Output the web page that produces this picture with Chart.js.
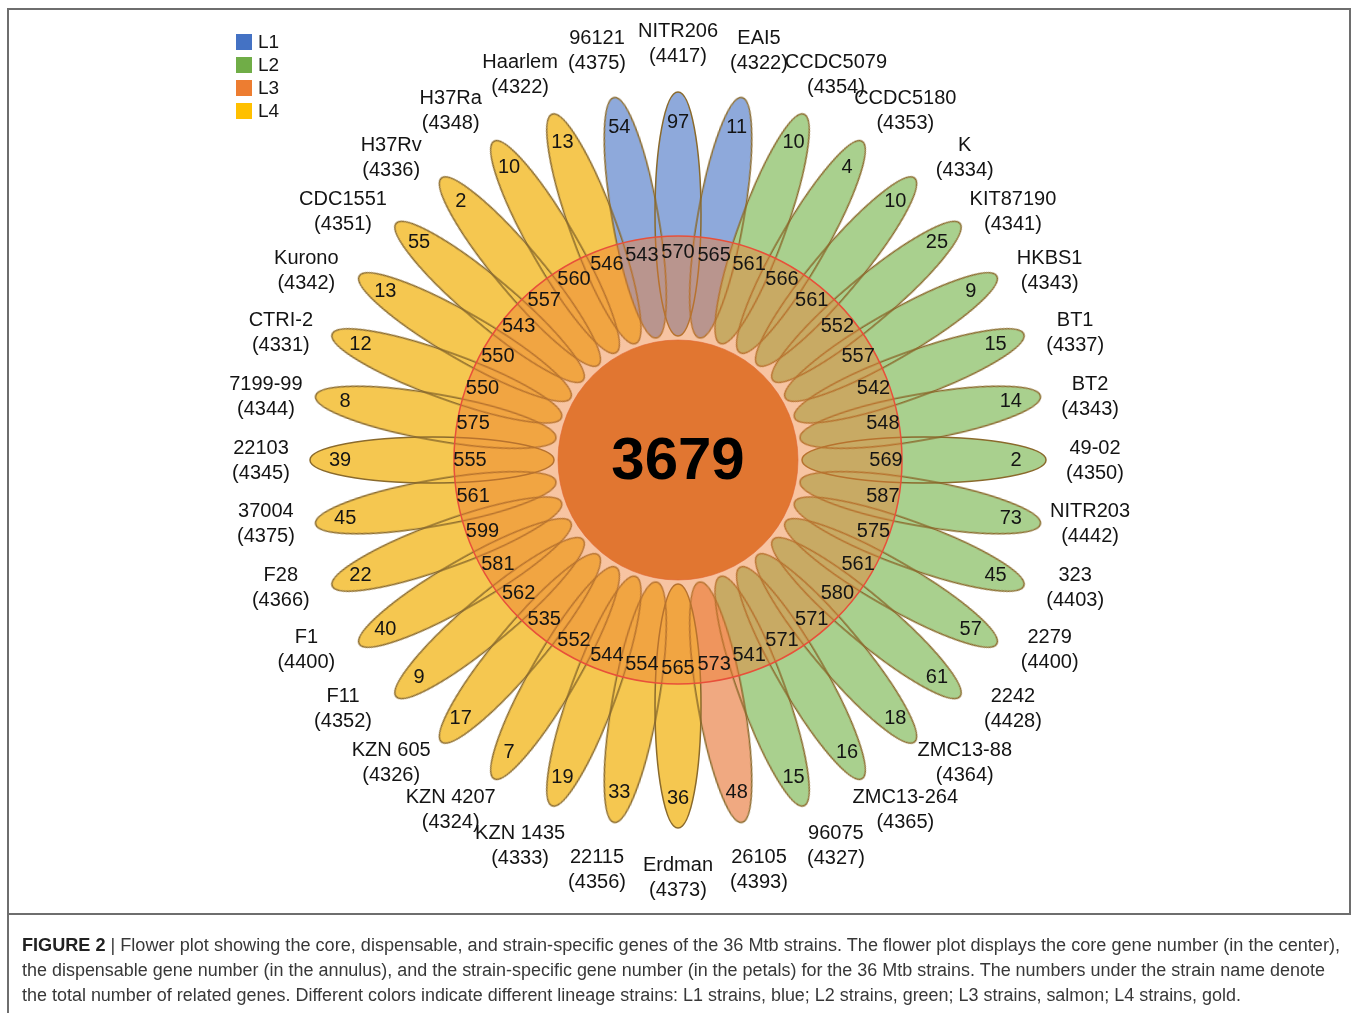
<!DOCTYPE html>
<html>
<head>
<meta charset="utf-8">
<title>Flower plot of 36 Mtb strains</title>
<script src="https://cdn.jsdelivr.net/npm/chart.js@4.4.1/dist/chart.umd.min.js"></script>
<style>
  html, body { margin: 0; padding: 0; background: #fff; }
  #wrap { position: relative; width: 1357px; height: 1013px; overflow: hidden; }
  #flower { position: absolute; left: 0; top: 0; }
  #frame { position: absolute; left: 7px; top: 8px; width: 1344px; height: 907px;
           border: 2px solid #6e6e6e; box-sizing: border-box; pointer-events: none; }
  #frameTail { position: absolute; left: 7px; top: 913px; width: 2px; height: 100px; background: #6e6e6e; }
  .ln { position: absolute; left: 22px; white-space: nowrap; color: #383838;
        font: 18px "Liberation Sans Narrow", "Liberation Sans", Arial, sans-serif;
        line-height: 20px; transform-origin: 0 50%; }
  .ln b { color: #222; }
</style>
</head>
<body>
<div id="wrap">
  <canvas id="flower" width="1357" height="1013"></canvas>
  <div id="frame"></div>
  <div id="frameTail"></div>
  <div class="ln" id="c1" style="top:935px"><b>FIGURE 2</b> | Flower plot showing the core, dispensable, and strain-specific genes of the 36 Mtb strains. The flower plot displays the core gene number (in the center),</div>
  <div class="ln" id="c2" style="top:960px">the dispensable gene number (in the annulus), and the strain-specific gene number (in the petals) for the 36 Mtb strains. The numbers under the strain name denote</div>
  <div class="ln" id="c3" style="top:985px">the total number of related genes. Different colors indicate different lineage strains: L1 strains, blue; L2 strains, green; L3 strains, salmon; L4 strains, gold.</div>
</div>
<script>
// caption lines fitted to the text block width
const capWidths = { c1: 1318, c2: 1303, c3: 1219 };
Object.keys(capWidths).forEach(id => {
  const el = document.getElementById(id);
  const w = el.getBoundingClientRect().width;
  if (w > 0) el.style.transform = "scaleX(" + (capWidths[id] / w) + ")";
});

// ---- data: strains listed clockwise from the top petal ----
const strains = ["NITR206","EAI5","CCDC5079","CCDC5180","K","KIT87190","HKBS1","BT1","BT2","49-02",
  "NITR203","323","2279","2242","ZMC13-88","ZMC13-264","96075","26105","Erdman","22115",
  "KZN 1435","KZN 4207","KZN 605","F11","F1","F28","37004","22103","7199-99","CTRI-2",
  "Kurono","CDC1551","H37Rv","H37Ra","Haarlem","96121"];
const totalGenes = [4417,4322,4354,4353,4334,4341,4343,4337,4343,4350,
  4442,4403,4400,4428,4364,4365,4327,4393,4373,4356,
  4333,4324,4326,4352,4400,4366,4375,4345,4344,4331,
  4342,4351,4336,4348,4322,4375];
const specificGenes = [97,11,10,4,10,25,9,15,14,2,
  73,45,57,61,18,16,15,48,36,33,
  19,7,17,9,40,22,45,39,8,12,
  13,55,2,10,13,54];
const dispensableGenes = [570,565,561,566,561,552,557,542,548,569,
  587,575,561,580,571,571,541,573,565,554,
  544,552,535,562,581,599,561,555,575,550,
  550,543,557,560,546,543];
const lineage = ["L1","L1","L2","L2","L2","L2","L2","L2","L2","L2",
  "L2","L2","L2","L2","L2","L2","L2","L3","L4","L4",
  "L4","L4","L4","L4","L4","L4","L4","L4","L4","L4",
  "L4","L4","L4","L4","L4","L1"];
const lineages = ["L1","L2","L3","L4"];
const coreGenes = 3679;

// ---- styling ----
const legendColor = { L1: "#4472C4", L2: "#70AD47", L3: "#ED7D31", L4: "#FFC000" };
const petalColor  = { L1: "#8EA9DB", L2: "#A9D08E", L3: "#F0A981", L4: "#F5C750" };
const petalEdge = "#8A6A2C";
const annulusFill = "rgba(237,125,49,0.45)";
const annulusEdge = "#E8503A";
const coreFill = "#E17631";
const FONT = '"Liberation Sans", Arial, sans-serif';

// ---- geometry (data units; the scales map 1 unit to 1 px) ----
const PETAL_INNER = 124, PETAL_OUTER = 368, PETAL_HALF_W = 23;
const PETAL_MID = (PETAL_INNER + PETAL_OUTER) / 2;
const PETAL_HALF_L = (PETAL_OUTER - PETAL_INNER) / 2;
const ANNULUS_R = 224, CORE_R = 120;
const SPECIFIC_R = 338, DISPENSABLE_R = 208, LABEL_R = 417;
const CX = 678, CY = 460, W = 1357, H = 1013;

const step = 360 / strains.length;
const angleOf = i => i * step;               // clockwise from the top
const rad = d => d * Math.PI / 180;
const polar = (r, deg) => ({ x: r * Math.sin(rad(deg)), y: r * Math.cos(rad(deg)) });

const petalPoints = strains.map((_, i) => polar(PETAL_MID, angleOf(i)));

function unitPx(chart) {
  const xs = chart.scales && chart.scales.x;
  if (xs) {
    const k = Math.abs(xs.getPixelForValue(1) - xs.getPixelForValue(0));
    if (isFinite(k) && k > 0) return k;
  }
  return 0;
}

const petalCache = {};
function petalImage(chart, lin, part) {
  const k = unitPx(chart);
  if (!k) return "circle";
  const key = lin + part + k.toFixed(4);
  if (petalCache[key]) return petalCache[key];
  const a = PETAL_HALF_L * k, b = PETAL_HALF_W * k;
  const c = document.createElement("canvas");
  c.width = Math.ceil(2 * b + 6); c.height = Math.ceil(2 * a + 6);
  const g = c.getContext("2d");
  g.beginPath();
  g.ellipse(c.width / 2, c.height / 2, b, a, 0, 0, Math.PI * 2);
  if (part === "fill") { g.fillStyle = petalColor[lin]; g.fill(); }
  else { g.strokeStyle = petalEdge; g.lineWidth = 1.5; g.stroke(); }
  petalCache[key] = c;
  return c;
}
const pxRadius = (chart, r) => (unitPx(chart) || 1) * r;

// ---- text layer: counts, strain names, centre value and lineage key ----
const flowerText = {
  id: "flowerText",
  afterDatasetsDraw(chart) {
    const { ctx, scales: { x, y } } = chart;
    const at = (r, deg) => { const p = polar(r, deg); return [x.getPixelForValue(p.x), y.getPixelForValue(p.y)]; };
    ctx.save();
    ctx.textAlign = "center";
    ctx.textBaseline = "middle";
    ctx.fillStyle = "#141414";
    ctx.font = "20px " + FONT;
    strains.forEach((name, i) => {
      const th = angleOf(i);
      let [px, py] = at(SPECIFIC_R, th);
      ctx.fillText(String(specificGenes[i]), px, py);
      [px, py] = at(DISPENSABLE_R, th);
      ctx.fillText(String(dispensableGenes[i]), px, py);
      const la = th + 3.5 * Math.sin(rad(2 * th));
      [px, py] = at(LABEL_R, la);
      ctx.fillText(name, px, py - 12);
      ctx.fillText("(" + totalGenes[i] + ")", px, py + 13);
    });
    ctx.font = "bold 60px " + FONT;
    ctx.fillStyle = "#000";
    ctx.fillText(String(coreGenes), x.getPixelForValue(0), y.getPixelForValue(0) + 2);

    // lineage key
    ctx.textAlign = "left";
    ctx.font = "19px " + FONT;
    lineages.forEach((l, j) => {
      const top = 34 + j * 23;
      ctx.fillStyle = legendColor[l];
      ctx.fillRect(236, top, 16, 16);
      ctx.fillStyle = "#141414";
      ctx.fillText(l, 258, top + 8.5);
    });
    ctx.restore();
  }
};

const chart = new Chart(document.getElementById("flower"), {
  type: "scatter",
  data: {
    datasets: [
      { label: "petals", order: 4, data: petalPoints,
        pointStyle: c => petalImage(c.chart, lineage[c.dataIndex], "fill"),
        rotation: c => angleOf(c.dataIndex), pointRadius: 3 },
      { label: "petal edges", order: 3, data: petalPoints,
        pointStyle: c => petalImage(c.chart, lineage[c.dataIndex], "edge"),
        rotation: c => angleOf(c.dataIndex), pointRadius: 3 },
      { label: "dispensable", order: 2, data: [{ x: 0, y: 0 }], pointStyle: "circle",
        pointRadius: c => pxRadius(c.chart, ANNULUS_R),
        backgroundColor: annulusFill, borderColor: annulusEdge, borderWidth: 1.5 },
      { label: "core", order: 1, data: [{ x: 0, y: 0 }], pointStyle: "circle",
        pointRadius: c => pxRadius(c.chart, CORE_R),
        backgroundColor: coreFill, borderColor: "rgba(225,100,50,0.6)", borderWidth: 1 }
    ]
  },
  options: {
    responsive: false,
    devicePixelRatio: 1,
    animation: false,
    events: [],
    layout: { padding: 0, autoPadding: false },
    plugins: { legend: { display: false }, tooltip: { enabled: false }, title: { display: false } },
    scales: {
      x: { type: "linear", display: false, min: -CX, max: W - CX },
      y: { type: "linear", display: false, min: CY - H, max: CY }
    }
  },
  plugins: [flowerText]
});
// re-resolve point styles now that the scales are laid out
chart.update("none");
</script>
</body>
</html>
